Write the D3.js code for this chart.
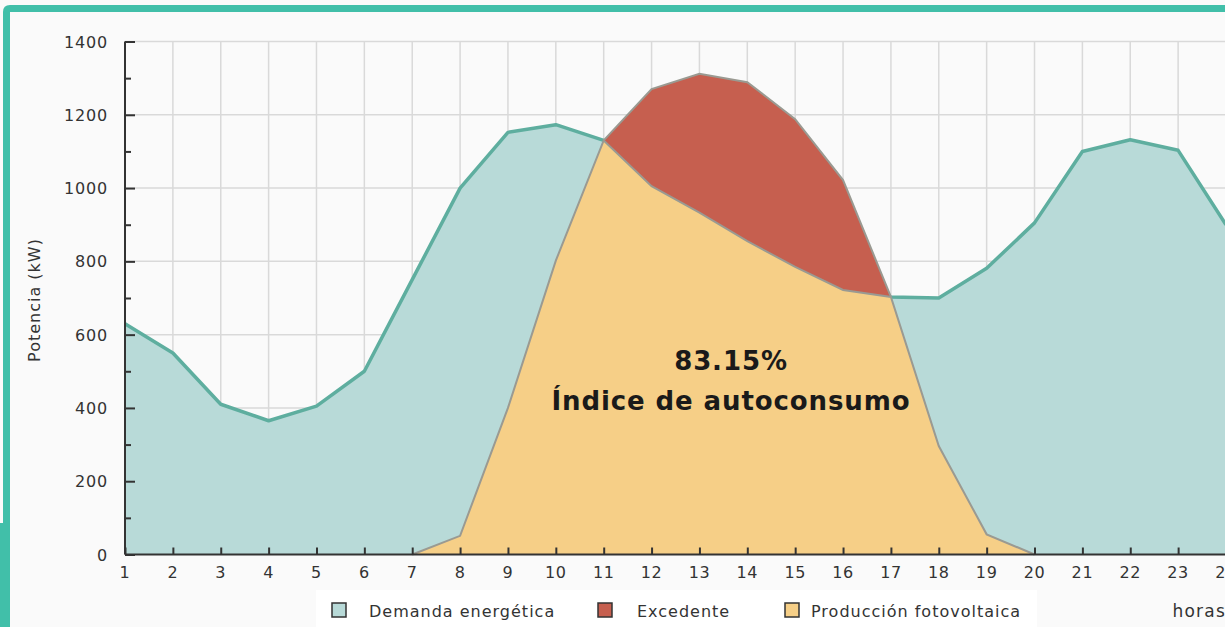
<!DOCTYPE html>
<html>
<head>
<meta charset="utf-8">
<script src="https://cdn.jsdelivr.net/npm/d3@7"></script>
<style>
  html, body { margin: 0; padding: 0; background: #fafafa; }
  svg { display: block; font-family: "DejaVu Sans", sans-serif; }
</style>
</head>
<body>
<svg id="chart" width="1225" height="627"></svg>
<script>
// hourly values
const hours = d3.range(1, 25);
const demand = [630, 550, 410, 365, 405, 500, 750, 1000, 1152, 1173, 1130, 1005, 933, 855, 785, 722, 703, 700, 781, 905, 1100, 1132, 1103, 900];
const production = [0, 0, 0, 0, 0, 0, 0, 51, 400, 802, 1130, 1270, 1312, 1289, 1188, 1022, 703, 296, 55, 0, 0, 0, 0, 0];
const yTicks = [0, 200, 400, 600, 800, 1000, 1200, 1400];
const legendItems = ['Demanda energética', 'Excedente', 'Producción fotovoltaica'];
const selfIndex = '83.15%';

const colors = {
  demandFill: '#b8dad8',
  demandLine: '#5eae9f',
  excess: '#c65f4f',
  solar: '#f6cf87',
  edge: '#9a9a92',
  frame: '#41bfa9'
};

const svg = d3.select('#chart');

// frame
svg.append('path')
  .attr('d', 'M3,523 L3,12 Q3,5 10,5 L1225,5 L1225,12 L10,12 L10,523 Z')
  .attr('fill', colors.frame);
svg.append('rect').attr('x', 0).attr('y', 523).attr('width', 10).attr('height', 104).attr('fill', colors.frame);

const x = d3.scaleLinear().domain([1, 24]).range([125, 1226]);
const y = d3.scaleLinear().domain([0, 1400]).range([554.5, 41.5]);

const rows = hours.map((h, i) => ({ h, d: demand[i], p: production[i] }));

// grid
const grid = svg.append('g').attr('stroke', '#d9d9d9').attr('stroke-width', 1.5);
grid.selectAll('.gx').data(hours.slice(1)).join('line')
  .attr('x1', d => x(d)).attr('x2', d => x(d))
  .attr('y1', y(1400)).attr('y2', y(0));
grid.selectAll('.gy').data(yTicks.slice(1)).join('line')
  .attr('x1', x(1)).attr('x2', 1225)
  .attr('y1', d => y(d)).attr('y2', d => y(d));

// demand area
svg.append('path')
  .datum(rows)
  .attr('fill', colors.demandFill)
  .attr('d', d3.area().x(d => x(d.h)).y0(y(0)).y1(d => y(d.d)));
svg.append('path')
  .datum(rows)
  .attr('fill', 'none')
  .attr('stroke', colors.demandLine)
  .attr('stroke-width', 3.5)
  .attr('stroke-linejoin', 'round')
  .attr('d', d3.line().x(d => x(d.h)).y(d => y(d.d)));

// excess (production above demand)
const excessRows = rows.filter(d => d.h >= 11 && d.h <= 17);
svg.append('path')
  .datum(excessRows)
  .attr('fill', colors.excess)
  .attr('d', d3.area().x(d => x(d.h)).y0(d => y(d.d)).y1(d => y(Math.max(d.d, d.p))));

// solar production used
const solarRows = rows.filter(d => d.h >= 7 && d.h <= 20);
svg.append('path')
  .datum(solarRows)
  .attr('fill', colors.solar)
  .attr('d', d3.area().x(d => x(d.h)).y0(y(0)).y1(d => y(Math.min(d.d, d.p))));

// edges
svg.append('path')
  .datum(excessRows)
  .attr('fill', 'none').attr('stroke', colors.edge).attr('stroke-width', 2)
  .attr('d', d3.line().x(d => x(d.h)).y(d => y(Math.max(d.d, d.p))));
svg.append('path')
  .datum(solarRows)
  .attr('fill', 'none').attr('stroke', colors.edge).attr('stroke-width', 2)
  .attr('d', d3.line().x(d => x(d.h)).y(d => y(Math.min(d.d, d.p))));

// axes
const yAxis = svg.append('g').attr('transform', `translate(${x(1)},0)`)
  .call(d3.axisRight(y).tickValues(d3.range(0, 1401, 100)).tickSize(10).tickFormat(''));
yAxis.selectAll('.tick line').attr('x2', d => d % 200 === 0 ? 10 : 6);
yAxis.selectAll('line, path').attr('stroke', '#333').attr('stroke-width', 2);
yAxis.select('.domain').attr('d', `M0,${y(1400)}V${y(0)}`);

svg.append('g').attr('fill', '#333').attr('font-size', 16).attr('letter-spacing', 0.8)
  .attr('text-anchor', 'end')
  .selectAll('text').data(yTicks).join('text')
  .attr('x', 108).attr('y', d => y(d) + 6)
  .text(d => d);

const xAxis = svg.append('g').attr('transform', `translate(0,${y(0)})`)
  .call(d3.axisTop(x).tickValues(hours).tickSize(7).tickFormat(''));
xAxis.selectAll('line, path').attr('stroke', '#333').attr('stroke-width', 2);
xAxis.select('.domain').attr('d', `M${x(1)},0H1225`);

svg.append('g').attr('fill', '#333').attr('font-size', 16).attr('letter-spacing', 0.6)
  .attr('text-anchor', 'middle')
  .selectAll('text').data(hours).join('text')
  .attr('x', d => x(d)).attr('y', 578)
  .text(d => d);

svg.append('text')
  .attr('transform', 'translate(40,300) rotate(-90)')
  .attr('text-anchor', 'middle').attr('font-size', 16).attr('letter-spacing', 1)
  .attr('fill', '#333')
  .text('Potencia (kW)');

svg.append('text')
  .attr('x', 1226).attr('y', 617).attr('text-anchor', 'end')
  .attr('font-size', 17).attr('letter-spacing', 1.2).attr('fill', '#333')
  .text('horas');

// annotation
const note = svg.append('g').attr('text-anchor', 'middle').attr('font-size', 26)
  .attr('letter-spacing', 0.9).attr('font-weight', 'bold').attr('fill', '#1a1a1a');
note.append('text').attr('x', 731).attr('y', 370).text(selfIndex);
note.append('text').attr('x', 731).attr('y', 410).text('Índice de autoconsumo');

// legend
const legend = svg.append('g');
legend.append('rect').attr('x', 316).attr('y', 590).attr('width', 721).attr('height', 40).attr('fill', '#fff');
const legendX = [332, 598, 785];
const legendTextX = [369, 637, 811];
const legendColors = [colors.demandFill, colors.excess, colors.solar];
legendItems.forEach((t, i) => {
  legend.append('rect')
    .attr('x', legendX[i]).attr('y', 603).attr('width', 14).attr('height', 14)
    .attr('fill', legendColors[i]).attr('stroke', '#333').attr('stroke-width', 1.5);
  legend.append('text')
    .attr('x', legendTextX[i]).attr('y', 617)
    .attr('font-size', 16).attr('letter-spacing', 1).attr('fill', '#333')
    .text(t);
});
</script>
</body>
</html>
